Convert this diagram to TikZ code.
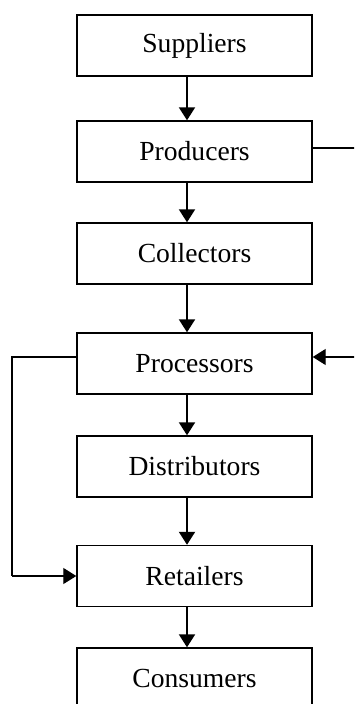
\documentclass[tikz,border=0pt]{standalone}
\usepackage{fontspec}
\setmainfont{Liberation Serif}
\usetikzlibrary{arrows.meta}

\begin{document}
\begin{tikzpicture}[x=0.5pt, y=-0.5pt,
                    stage/.style={draw, line width=0.7pt, minimum width=117.5pt,
                                  minimum height=30.5pt, inner sep=0pt,
                                  font=\fontsize{13.8}{16}\selectfont},
                    flow/.style={line width=1pt, -{Triangle[length=6.5pt, width=8pt]}},
                    side/.style={line width=0.6pt}
                    ]
    \useasboundingbox (0,0) rectangle (354,704);
    \clip (0,0) rectangle (354,704);

    \node[stage] (sup) at (194.5, 45.5) {Suppliers};
    \node[stage] (prd) at (194.5,151.5) {Producers};
    \node[stage] (col) at (194.5,253.5) {Collectors};
    \node[stage] (prc) at (194.5,363.5) {Processors};
    \node[stage] (dis) at (194.5,466.5) {Distributors};
    \node[stage] (ret) at (194.5,576.0) {Retailers};
    \node[stage] (con) at (194.5,678.5) {Consumers};

    % main chain, slightly left of centre
    \draw[flow] ([xshift=-3.75pt]sup.south) -- ([xshift=-3.75pt]prd.north);
    \draw[flow] ([xshift=-3.75pt]prd.south) -- ([xshift=-3.75pt]col.north);
    \draw[flow] ([xshift=-3.75pt]col.south) -- ([xshift=-3.75pt]prc.north);
    \draw[flow] ([xshift=-3.75pt]prc.south) -- ([xshift=-3.75pt]dis.north);
    \draw[flow] ([xshift=-3.75pt]dis.south) -- ([xshift=-3.75pt]ret.north);
    \draw[flow] ([xshift=-3.75pt]ret.south) -- ([xshift=-3.75pt]con.north);

    % bypass routes
    \coordinate (r1) at (362,148);
    \coordinate (r2) at (362,357);
    \coordinate (l1) at (12,357);
    \coordinate (l2) at (12,576);
    \draw[side] ([yshift=1.75pt]prd.east) -- (r1) -- (r2);
    \draw[side, -{Triangle[length=6.5pt, width=8pt]}] (r2) -- ([yshift=3.25pt]prc.east);
    \draw[side] ([yshift=3.25pt]prc.west) -- (l1) -- (l2);
    \draw[side, -{Triangle[length=6.5pt, width=8pt]}] (l2) -- (ret.west);
\end{tikzpicture}
\end{document}
